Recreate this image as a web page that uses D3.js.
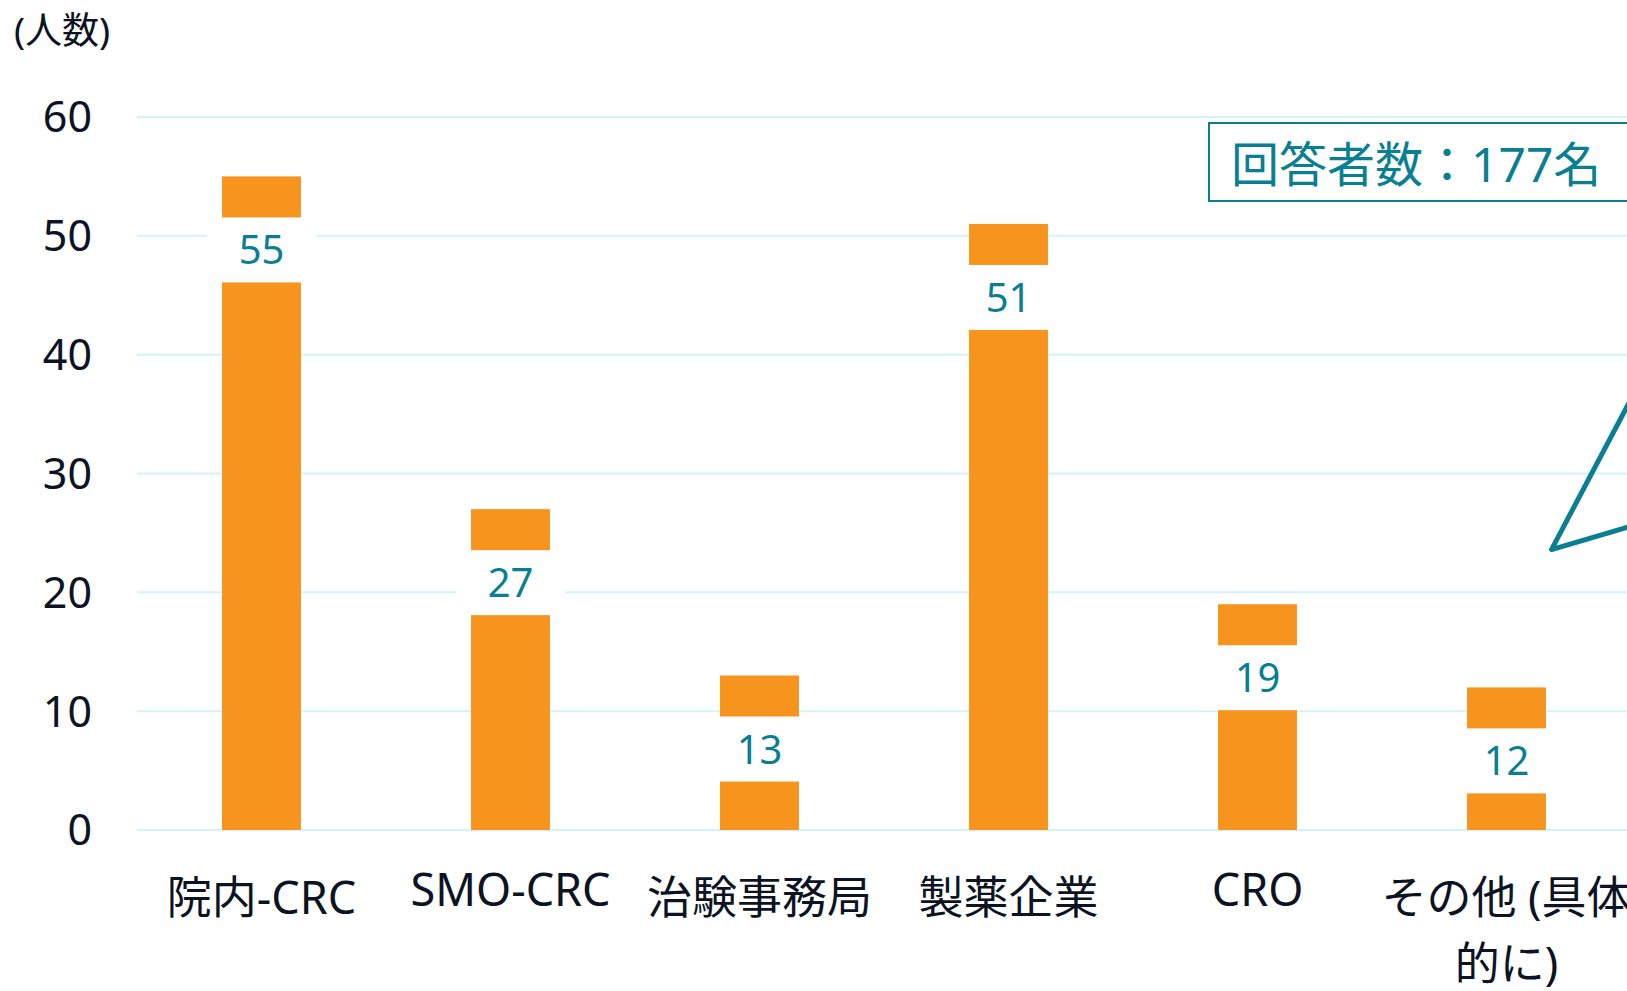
<!DOCTYPE html>
<html>
<head>
<meta charset="utf-8">
<script src="https://cdn.jsdelivr.net/npm/d3@7"></script>
<style>
  html, body { margin: 0; padding: 0; background: #fff; overflow: hidden; }
  text { font-family: "Noto Sans", "Noto Sans CJK JP", sans-serif; }
</style>
</head>
<body>
<div id="chart"></div>
<script>
// data
const categories = ['院内-CRC', 'SMO-CRC', '治験事務局', '製薬企業', 'CRO', 'その他 (具体的に)'];
const counts = [55, 27, 13, 51, 19, 12];
const yTicks = [0, 10, 20, 30, 40, 50, 60];
const respondents = 177;

const teal = '#097f91';
const orange = '#f7941e';
const grid = '#d2f3fa';
const ink = '#0c1322';

const width = 1627, height = 991;
const margin = { top: 117, left: 137, bottom: 161 };

const svg = d3.select('#chart')
    .append('svg')
    .attr('width', width)
    .attr('height', height);

// plot runs a little past the right edge of the picture
const xScale = d3.scaleBand()
    .domain(categories)
    .range([margin.left, margin.left + 249 * categories.length])
    .paddingInner(0.683)
    .paddingOuter(0.3415);

const yScale = d3.scaleLinear()
    .domain([0, 60])
    .range([height - margin.bottom, margin.top]);

// gridlines
svg.append('g')
    .selectAll('line')
    .data(yTicks)
    .join('line')
    .attr('x1', margin.left)
    .attr('x2', width + 10)
    .attr('y1', d => yScale(d))
    .attr('y2', d => yScale(d))
    .attr('stroke', grid)
    .attr('stroke-width', 2);

// y tick labels
svg.append('g')
    .selectAll('text')
    .data(yTicks)
    .join('text')
    .attr('x', 92)
    .attr('y', d => yScale(d))
    .attr('dy', '0.36em')
    .attr('text-anchor', 'end')
    .attr('font-size', 43)
    .attr('fill', ink)
    .text(d => d);

// y title
svg.append('text')
    .attr('x', 14)
    .attr('y', 44)
    .attr('font-size', 37)
    .attr('fill', ink)
    .text('(人数)');

// bars
const data = categories.map((c, i) => ({ cat: c, value: counts[i] }));

svg.append('g')
    .selectAll('rect')
    .data(data)
    .join('rect')
    .attr('x', d => xScale(d.cat))
    .attr('width', xScale.bandwidth())
    .attr('y', d => yScale(d.value))
    .attr('height', d => yScale(0) - yScale(d.value))
    .attr('fill', orange);

// value labels on white patches inside the bar
const lab = svg.append('g')
    .selectAll('g')
    .data(data)
    .join('g')
    .attr('transform', d => `translate(${xScale(d.cat) + xScale.bandwidth() / 2},${yScale(d.value)})`);

lab.append('rect')
    .attr('x', -54.5)
    .attr('y', 41)
    .attr('width', 109)
    .attr('height', 65)
    .attr('fill', '#fff');

lab.append('text')
    .attr('y', 88)
    .attr('text-anchor', 'middle')
    .attr('font-size', 40)
    .attr('fill', teal)
    .text(d => d.value);

// category labels (wrapped like the original)
const lines = {
    'その他 (具体的に)': ['その他 (具体', '的に)']
};

const catLabels = svg.append('g')
    .selectAll('text')
    .data(categories)
    .join('text')
    .attr('x', d => xScale(d) + xScale.bandwidth() / 2)
    .attr('y', d => /[^\x00-\x7f]/.test(d) ? 914 : 906)
    .attr('text-anchor', 'middle')
    .attr('font-size', 45)
    .attr('fill', ink);

catLabels.each(function(d) {
    const parts = lines[d] || [d];
    const t = d3.select(this);
    parts.forEach((p, i) => {
        t.append('tspan')
            .attr('x', xScale(d) + xScale.bandwidth() / 2)
            .attr('dy', i === 0 ? 0 : 66)
            .text(p);
    });
});

// respondents box
const boxX = xScale.range()[1] - 422;
const boxY = yScale(60) + 6;
svg.append('rect')
    .attr('x', boxX)
    .attr('y', boxY)
    .attr('width', 460)
    .attr('height', 78)
    .attr('fill', '#fff')
    .attr('stroke', teal)
    .attr('stroke-width', 2);

svg.append('text')
    .attr('x', boxX + 22)
    .attr('y', boxY + 59)
    .attr('font-size', 48)
    .attr('fill', teal)
    .text(`回答者数：${respondents}名`);

// callout pointer towards the last bar
const last = categories[categories.length - 1];
const tipX = xScale(last) + xScale.bandwidth() / 2 + 45;
const tipY = yScale(23.6);
svg.append('path')
    .attr('d', `M${tipX + 150},${tipY - 284}L${tipX},${tipY}L${tipX + 150},${tipY - 44}`)
    .attr('fill', 'none')
    .attr('stroke', teal)
    .attr('stroke-width', 5)
    .attr('stroke-linejoin', 'round');
</script>
</body>
</html>
